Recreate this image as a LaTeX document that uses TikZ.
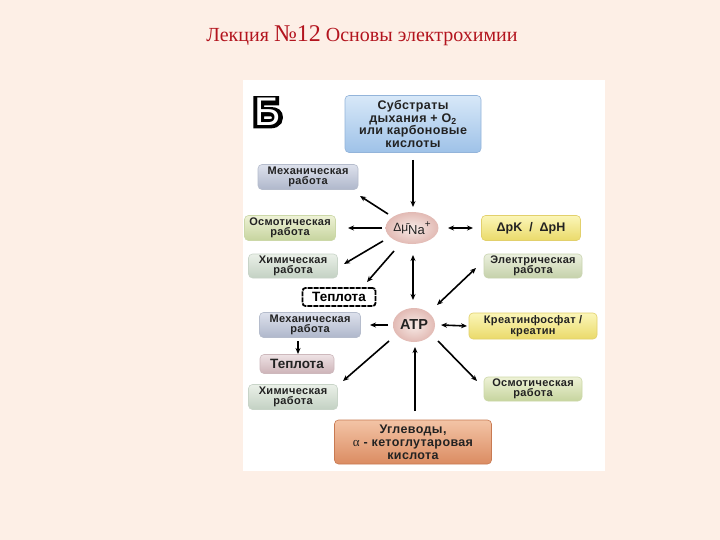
\documentclass[tikz,border=0pt]{standalone}
\usepackage{fontspec}
\setmainfont{Liberation Serif}
\newfontfamily\lab{Liberation Sans}[LetterSpace=3]
\newfontfamily\labn{Liberation Sans}
\newfontfamily\fatB{Liberation Sans Bold}[FakeBold=12]
\usetikzlibrary{shapes.geometric,arrows.meta}
\definecolor{bg}{HTML}{FDEFE6}
\definecolor{titlered}{HTML}{B3141E}
\definecolor{txt}{HTML}{222222}
\definecolor{mechT}{HTML}{DDE1EC}\definecolor{mechB}{HTML}{AFB7CB}\definecolor{mechD}{HTML}{B5BCCC}
\definecolor{osmT}{HTML}{EEF2D6}\definecolor{osmB}{HTML}{C6D49E}\definecolor{osmD}{HTML}{CCD8A8}
\definecolor{chemT}{HTML}{EAF0E8}\definecolor{chemB}{HTML}{C3D1C3}\definecolor{chemD}{HTML}{C8D4C8}
\definecolor{elT}{HTML}{EBF0DE}\definecolor{elB}{HTML}{C5D1AA}\definecolor{elD}{HTML}{C9D4B0}
\definecolor{yelT}{HTML}{FBF6B8}\definecolor{yelB}{HTML}{EADA6A}\definecolor{yelD}{HTML}{E2D06C}
\definecolor{cirI}{HTML}{F7EAE6}\definecolor{cirO}{HTML}{E2BAB4}
\definecolor{subT}{HTML}{D8E8F8}\definecolor{subB}{HTML}{9EC2E8}\definecolor{subD}{HTML}{93B4DA}
\definecolor{heatT}{HTML}{EEE2E4}\definecolor{heatB}{HTML}{CDB3B8}\definecolor{heatD}{HTML}{CDB8BC}
\definecolor{uglT}{HTML}{F3C4A6}\definecolor{uglB}{HTML}{DB8C62}\definecolor{uglD}{HTML}{C87A52}
\tikzset{
  box/.style={rounded corners=4pt, align=center, inner sep=1pt, text=txt,
    font=\lab\bfseries\fontsize{11}{10.5}\selectfont, line width=0.6pt},
  mechbox/.style={box, top color=mechT, bottom color=mechB, draw=mechD},
  osmbox/.style={box, top color=osmT, bottom color=osmB, draw=osmD},
  chembox/.style={box, top color=chemT, bottom color=chemB, draw=chemD},
  elbox/.style={box, top color=elT, bottom color=elB, draw=elD},
  yelbox/.style={box, top color=yelT, bottom color=yelB, draw=yelD},
  circ/.style={ellipse, inner sep=0pt, inner color=cirI, outer color=cirO, text=txt},
  arr/.style={line width=1.6pt, -{Stealth[length=6pt,width=5pt]}},
  darr/.style={line width=1.6pt, {Stealth[length=6pt,width=5pt]}-{Stealth[length=6pt,width=5pt]}},
}
\begin{document}
\begin{tikzpicture}[x=1pt,y=-1pt]
\useasboundingbox (0,0) rectangle (720,540);
\fill[bg] (0,0) rectangle (720,540);
\node[titlered, font=\fontsize{20}{22}\selectfont] (title) at (362,36)
  {Лекция {\fontsize{24}{26}\selectfont №12} Основы электрохимии};
\fill[white] (243,80) rectangle (605,471);
\node[font=\fatB\fontsize{40}{42}\selectfont, inner sep=0pt, anchor=base west] (B) at (253,126) {Б};
\node[font=\labn\fontsize{40}{42}\selectfont, inner sep=0pt, anchor=base west, text=white] (Bin) at (254.5,126) {Б};
% boxes
\node[box, top color=subT, bottom color=subB, draw=subD,
  minimum width=136pt, minimum height=57pt, font=\lab\bfseries\fontsize{12.5}{12.7}\selectfont] (subs) at (413,124)
  {Субстраты\\дыхания + O\textsubscript{2}\\или карбоновые\\кислоты};
\node[mechbox, minimum width=100pt, minimum height=25pt] (mech1) at (308,177) {Механическая\\работа};
\node[osmbox, minimum width=91pt, minimum height=25pt] (osm1) at (290,228) {Осмотическая\\работа};
\node[chembox, minimum width=89pt, minimum height=24pt] (him1) at (293,266) {Химическая\\работа};
\node[box, fill=white, draw=black, dash pattern=on 5pt off 1pt, line width=1.8pt, rounded corners=3pt,
  minimum width=73pt, minimum height=18pt, font=\labn\bfseries\fontsize{13.5}{13}\selectfont, text=black] (heat1) at (339,297) {Теплота};
\node[circ, minimum width=44pt, minimum height=32pt] (na) at (412,228)
  {\labn\fontsize{12}{12}\selectfont Δ\={μ}\raisebox{-2.5pt}{\fontsize{13}{13}\selectfont Na}\raisebox{4pt}{\fontsize{10}{10}\selectfont +}};
\node[yelbox, minimum width=99pt, minimum height=25pt, font=\labn\bfseries\fontsize{12.5}{12}\selectfont] (dpk) at (531,228) {ΔpK\ \ /\ \ ΔpH};
\node[elbox, minimum width=98pt, minimum height=24pt] (el) at (533,266) {Электрическая\\работа};
\node[circ, minimum width=42pt, minimum height=34pt, font=\labn\bfseries\fontsize{14.5}{14}\selectfont] (atp) at (414,325) {ATP};
\node[mechbox, minimum width=101pt, minimum height=25pt] (mech2) at (310,325) {Механическая\\работа};
\node[box, top color=heatT, bottom color=heatB, draw=heatD,
  minimum width=74pt, minimum height=19pt, font=\labn\bfseries\fontsize{13.5}{13}\selectfont] (heat2) at (297,364) {Теплота};
\node[chembox, minimum width=89pt, minimum height=25pt] (him2) at (293,397) {Химическая\\работа};
\node[yelbox, minimum width=128pt, minimum height=26pt] (kreat) at (533,326) {Креатинфосфат /\\креатин};
\node[osmbox, minimum width=98pt, minimum height=24pt] (osm2) at (533,389) {Осмотическая\\работа};
\node[box, top color=uglT, bottom color=uglB, draw=uglD,
  minimum width=157pt, minimum height=44pt, font=\lab\bfseries\fontsize{12.5}{13}\selectfont] (ugl) at (413,442)
  {Углеводы,\\{\rmfamily\mdseries\fontsize{13}{13}\selectfont α} - кетоглутаровая\\кислота};
% connectors
\draw[arr] ([shift={(0,36)}]subs.center) -- ([shift={(1,-21)}]na.center);
\draw[arr] ([shift={(-24,-14)}]na.center) -- ([shift={(52,19)}]mech1.center);
\draw[arr] ([shift={(-30,0)}]na.center) -- ([shift={(58,0)}]osm1.center);
\draw[arr] ([shift={(-29,13)}]na.center) -- ([shift={(51,-2)}]him1.center);
\draw[arr] ([shift={(-18,23)}]na.center) -- ([shift={(28,-15)}]heat1.center);
\draw[darr] ([shift={(1,27)}]na.center) -- ([shift={(-1,-25)}]atp.center);
\draw[darr] ([shift={(36,0)}]na.center) -- ([shift={(-58,0)}]dpk.center);
\draw[darr] ([shift={(23,-20)}]atp.center) -- ([shift={(-57,2)}]el.center);
\draw[arr] ([shift={(-26,0)}]atp.center) -- ([shift={(60,0)}]mech2.center);
\draw[darr] ([shift={(27,0)}]atp.center) -- ([shift={(-66,0)}]kreat.center);
\draw[arr] ([shift={(-12,16)}]mech2.center) -- ([shift={(1,-10)}]heat2.center);
\draw[arr] ([shift={(-25,16)}]atp.center) -- ([shift={(50,-16)}]him2.center);
\draw[arr] ([shift={(24,16)}]atp.center) -- ([shift={(-56,-8)}]osm2.center);
\draw[arr] ([shift={(2,-31)}]ugl.center) -- ([shift={(1,22)}]atp.center);
\end{tikzpicture}
\end{document}
